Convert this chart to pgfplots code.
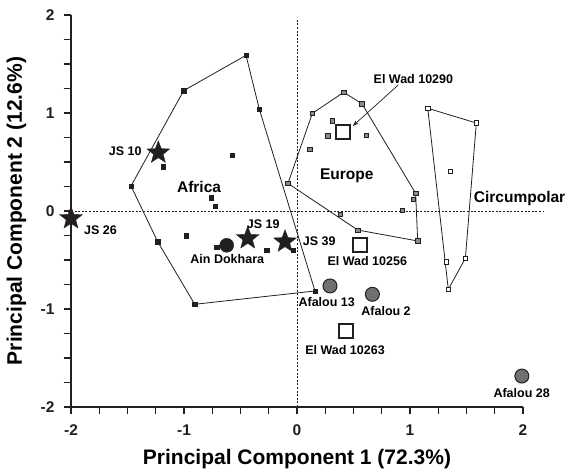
\documentclass[border=0pt]{standalone}
\usepackage{fontspec}
\setmainfont{Liberation Sans}
\usepackage{pgfplots}
\pgfplotsset{compat=1.18}
\usetikzlibrary{plotmarks,arrows.meta}
\definecolor{txt}{HTML}{231F20}
\definecolor{sqgray}{HTML}{8A8A8A}
\definecolor{cgray}{HTML}{707070}
\pgfdeclareplotmark{fstar}{%
  \pgfpathmoveto{\pgfpointpolar{90}{\pgfplotmarksize}}%
  \pgfpathlineto{\pgfpointpolar{126}{0.42\pgfplotmarksize}}%
  \pgfpathlineto{\pgfpointpolar{162}{\pgfplotmarksize}}%
  \pgfpathlineto{\pgfpointpolar{198}{0.42\pgfplotmarksize}}%
  \pgfpathlineto{\pgfpointpolar{234}{\pgfplotmarksize}}%
  \pgfpathlineto{\pgfpointpolar{270}{0.42\pgfplotmarksize}}%
  \pgfpathlineto{\pgfpointpolar{306}{\pgfplotmarksize}}%
  \pgfpathlineto{\pgfpointpolar{342}{0.42\pgfplotmarksize}}%
  \pgfpathlineto{\pgfpointpolar{18}{\pgfplotmarksize}}%
  \pgfpathlineto{\pgfpointpolar{54}{0.42\pgfplotmarksize}}%
  \pgfpathclose
  \pgfusepathqfillstroke
}
\begin{document}
\begin{tikzpicture}
\begin{axis}[
  width=452pt, height=392pt, scale only axis,
  xmin=-2, xmax=2, ymin=-2, ymax=2,
  axis lines=left, axis line style={-, line width=1.4pt, txt},
  clip=false,
  xtick={-2,-1,0,1,2}, xticklabels={-2,-1,0,1,2},
  ytick={-2,-1,0,1,2}, yticklabels={-2,-1,0,1,2},
  minor tick num=3,
  tick align=outside,
  major tick length=7pt, minor tick length=7pt,
  tick style={line width=1.1pt, txt},
  ticklabel style={font=\fontsize{15.5}{16}\selectfont\bfseries, text=txt},
  xticklabel style={yshift=-7pt},
  yticklabel style={xshift=-6pt},
  every node/.style={text=txt},
]
% reference lines
\addplot[txt, line width=0.7pt, dash pattern=on 2pt off 1.6pt] coordinates {(-2,0) (2.18,0)};
\addplot[txt, line width=0.7pt, dash pattern=on 2pt off 1.6pt] coordinates {(0,-2) (0,1.95)};
% hulls
\addplot[txt, line width=0.8pt] coordinates {(-0.451,1.589) (-1.003,1.228) (-1.469,0.255) (-1.233,-0.313) (-0.905,-0.952) (0.159,-0.816) (-0.334,1.041) (-0.451,1.589)};
\addplot[txt, line width=0.8pt] coordinates {(0.136,0.997) (0.413,1.211) (0.575,1.095) (1.05,0.18) (1.068,-0.306) (0.537,-0.194) (-0.08,0.282) (0.136,0.997)};
\addplot[txt, line width=0.8pt] coordinates {(1.157,1.048) (1.587,0.898) (1.49,-0.483) (1.339,-0.799) (1.157,1.048)};
% Africa samples
\addplot[only marks, mark=square*, mark size=2.2pt, mark options={fill=txt, draw=txt, line width=0.3pt}] coordinates {
(-0.451,1.589) (-1.003,1.228) (-0.334,1.041) (-1.469,0.255) (-1.183,0.452) (-0.575,0.568) (-0.761,0.136) (-0.723,0.051) (-1.233,-0.313) (-0.982,-0.252) (-0.905,-0.952) (0.159,-0.816) (-0.711,-0.37) (-0.268,-0.401) (-0.032,-0.401)};
% Europe samples
\addplot[only marks, mark=square*, mark size=2.2pt, mark options={fill=sqgray, draw=txt, line width=0.6pt}] coordinates {
(0.136,0.997) (0.413,1.211) (0.575,1.095) (0.313,0.921) (0.274,0.769) (0.613,0.772) (0.115,0.629) (-0.08,0.282) (1.05,0.18) (1.03,0.122) (0.932,0.007) (0.383,-0.034) (0.537,-0.194) (1.068,-0.306)};
% Circumpolar samples
\addplot[only marks, mark=square*, mark size=2.2pt, mark options={fill=white, draw=txt, line width=0.6pt}] coordinates {
(1.157,1.048) (1.587,0.898) (1.357,0.408) (1.49,-0.483) (1.321,-0.517) (1.339,-0.799)};
% stars
\addplot[only marks, mark=fstar, mark size=12pt, mark options={fill=txt, draw=txt, line width=0.3pt}] coordinates {
(-1.227,0.595) (-2.0,-0.075) (-0.436,-0.279) (-0.106,-0.313)};
% Ain Dokhara
\addplot[only marks, mark=*, mark size=7pt, mark options={fill=txt, draw=txt}] coordinates {(-0.622,-0.35)};
% Afalou
\addplot[only marks, mark=*, mark size=7pt, mark options={fill=cgray, draw=txt, line width=1pt}] coordinates {(0.292,-0.765) (0.667,-0.85) (1.99,-1.684)};
% El Wad
\addplot[only marks, mark=square*, mark size=7pt, mark options={fill=white, draw=txt, line width=1.8pt}] coordinates {(0.41,0.803) (0.56,-0.35) (0.434,-1.224)};
% arrow
\draw[txt, line width=0.7pt, -{Stealth[length=6pt,width=4pt]}] (axis cs:0.896,1.286) -- (axis cs:0.493,0.867);
% labels
\begin{scope}[every node/.append style={font=\fontsize{12.5}{13}\selectfont\bfseries, inner sep=0pt}]
\node[anchor=east] at (axis cs:-1.374,0.615) {JS 10};
\node[anchor=west] at (axis cs:-1.885,-0.194) {JS 26};
\node at (axis cs:-0.298,-0.133) {JS 19};
\node[anchor=west] at (axis cs:0.05,-0.313) {JS 39};
\node at (axis cs:-0.617,-0.493) {Ain Dokhara};
\node at (axis cs:0.263,-0.925) {Afalou 13};
\node at (axis cs:0.788,-1.017) {Afalou 2};
\node at (axis cs:1.988,-1.854) {Afalou 28};
\node at (axis cs:0.622,-0.51) {El Wad 10256};
\node at (axis cs:0.425,-1.418) {El Wad 10263};
\node at (axis cs:1.03,1.344) {El Wad 10290};
\end{scope}
\begin{scope}[every node/.append style={font=\fontsize{15.5}{16}\selectfont\bfseries, inner sep=0pt}]
\node at (axis cs:-0.867,0.242) {Africa};
\node at (axis cs:0.44,0.36) {Europe};
\node[anchor=west] at (axis cs:1.564,0.13) {Circumpolar};
\end{scope}
\node[anchor=base, font=\fontsize{21}{22}\selectfont\bfseries, inner sep=0pt] at ([yshift=-57pt]rel axis cs:0.5,0) {Principal Component 1 (72.3\%)};
\node[anchor=base, rotate=90, font=\fontsize{21}{22}\selectfont\bfseries, inner sep=0pt] at ([xshift=-49pt]rel axis cs:0,0.5) {Principal Component 2 (12.6\%)};
\end{axis}
\pgfresetboundingbox
\path[use as bounding box] (-71pt,-62pt) rectangle (498pt,407pt);
\end{tikzpicture}
\end{document}
